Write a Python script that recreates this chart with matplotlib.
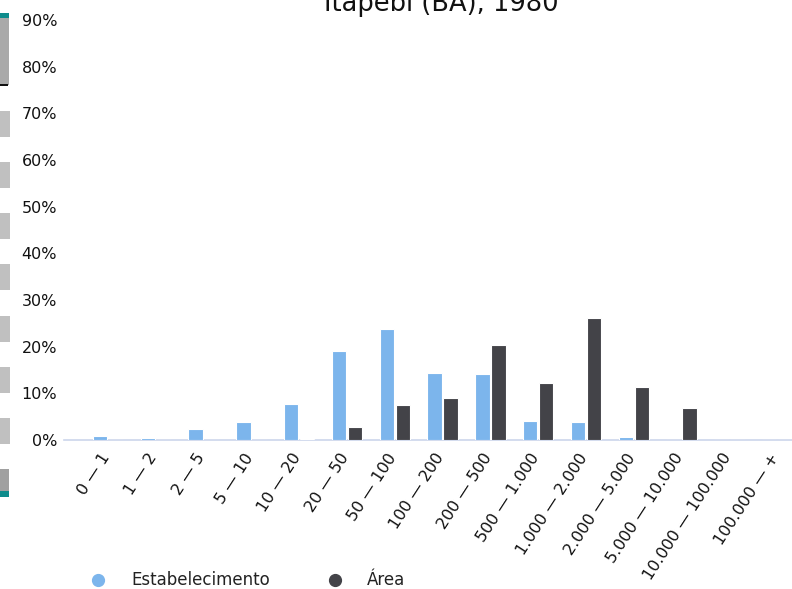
import matplotlib
matplotlib.use("Agg")
import matplotlib.pyplot as plt
from matplotlib.patches import Rectangle
from matplotlib.lines import Line2D
from matplotlib.ticker import FuncFormatter, MultipleLocator
from matplotlib.transforms import ScaledTranslation

categories = ["0 — 1", "1 — 2", "2 — 5", "5 — 10", "10 — 20", "20 — 50", "50 — 100",
              "100 — 200", "200 — 500", "500 — 1.000", "1.000 — 2.000", "2.000 — 5.000",
              "5.000 — 10.000", "10.000 — 100.000", "100.000 — +"]
estabelecimento = [0.8, 0.4, 2.4, 3.9, 7.7, 19.1, 23.8, 14.4, 14.1, 4.1, 3.9, 0.6, 0.0, 0.0, 0.0]
area = [0.0, 0.0, 0.0, 0.0, 0.2, 2.7, 7.4, 9.1, 20.4, 12.3, 26.2, 11.4, 6.8, 0.0, 0.0]
series_names = ["Estabelecimento", "Área"]
colors = ["#7cb5ec", "#434348"]
title = "Itapebi (BA), 1980"

W, H = 792, 589
fig = plt.figure(figsize=(W / 100, H / 100), dpi=100)

def px(x, y):
    return x / W, 1 - y / H

# axes: left 64px, right 792px, top 20px (90%), bottom 440px (0%)
l, b = px(64, 440)
r, t = px(792, 20)
ax = fig.add_axes([l, b, r - l, t - b])

xs = list(range(len(categories)))
bw = 0.30
off = 0.167
ax.bar([x - off for x in xs], estabelecimento, width=bw, color=colors[0],
       edgecolor="white", linewidth=0.8, zorder=3)
ax.bar([x + off for x in xs], area, width=bw, color=colors[1],
       edgecolor="white", linewidth=0.8, zorder=3)

ax.set_xlim(-0.92, 14.31)
ax.set_ylim(0, 90)
ax.yaxis.set_major_locator(MultipleLocator(10))
ax.yaxis.set_major_formatter(FuncFormatter(lambda v, p: f"{int(round(v))}%"))
for s in ["top", "right", "left"]:
    ax.spines[s].set_visible(False)
ax.spines["bottom"].set_color("#ccd6eb")
ax.spines["bottom"].set_linewidth(1.2)
ax.tick_params(axis="y", length=0, labelsize=11.5, pad=5, labelcolor="#111111")
ax.tick_params(axis="x", length=0, labelsize=11.5, pad=4, labelcolor="#111111")
ax.set_xticks(xs)
ax.set_xticklabels(categories, rotation=57, ha="right", va="top", rotation_mode="anchor")
shift = ScaledTranslation(-8 / 100, -5 / 100, fig.dpi_scale_trans)
for lab in ax.get_xticklabels():
    lab.set_transform(lab.get_transform() + shift)
ax.patch.set_alpha(0)

# title (partially clipped at top)
fig.text(441 / W, 1 - 11 / H, title, ha="center", va="baseline", fontsize=18.5, color="#111111")

# legend
lx1, ly = px(98, 580)
fig.add_artist(Line2D([lx1], [ly], marker="o", markersize=8.5, color=colors[0], linestyle="none",
                      transform=fig.transFigure))
fig.text(131 / W, ly, series_names[0], ha="left", va="center", fontsize=12, color="#222222")
lx2, _ = px(335, 580)
fig.add_artist(Line2D([lx2], [ly], marker="o", markersize=8.5, color=colors[1], linestyle="none",
                      transform=fig.transFigure))
fig.text(367 / W, ly, series_names[1], ha="left", va="center", fontsize=12, color="#222222")

# vertical scrollbar-like decoration on the left edge
def rect(x0, y0, x1, y1, color):
    X0, Y1 = px(x0, y0)
    X1, Y0 = px(x1, y1)
    fig.add_artist(Rectangle((X0, Y0), X1 - X0, Y1 - Y0, transform=fig.transFigure,
                             facecolor=color, edgecolor="none"))

rect(0, 13, 9, 85, "#a9a9a9")
rect(0, 13, 9, 18, "#0e8c8c")
rect(0, 83.5, 8, 86, "#111111")
for y0 in [111, 162, 213, 264, 316, 367, 418]:
    rect(0, y0, 10, y0 + 26, "#c0c0c0")
rect(0, 469, 9, 497, "#a0a0a0")
rect(0, 491, 9, 497, "#0e8c8c")

fig.savefig("out.png", dpi=100)
